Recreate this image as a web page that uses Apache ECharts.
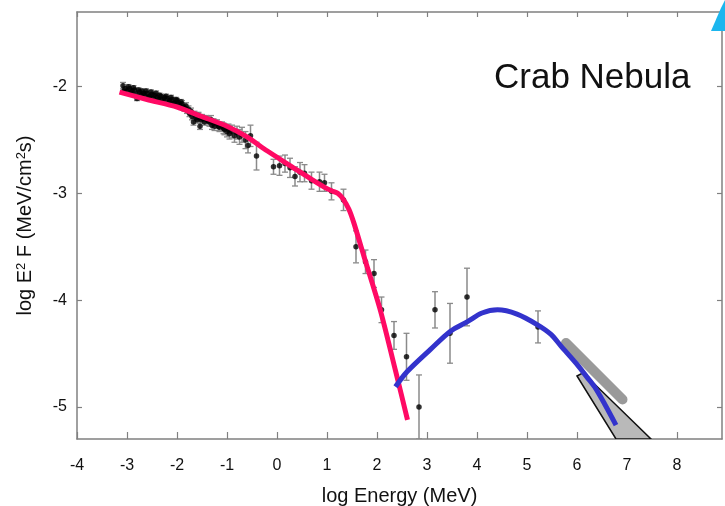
<!DOCTYPE html>
<html>
<head>
<meta charset="utf-8">
<script src="https://cdn.jsdelivr.net/npm/echarts@6/dist/echarts.min.js"></script>
<style>html,body{margin:0;padding:0;background:#fff}#c{width:725px;height:506px}</style>
</head>
<body>
<div id="c"></div>
<script>
// ---- data (log E [MeV], log E^2F, error) ----
const xTicks = [-4, -3, -2, -1, 0, 1, 2, 3, 4, 5, 6, 7, 8];
const yTicks = [-5, -4, -3, -2];

// measured points: [logE, logE2F, error]
const points = [
  [-3.08,-1.99,0.03],[-3.06,-2.04,0.02],[-3.04,-2.02,0.02],[-3.00,-2.04,0.02],[-2.97,-2.00,0.02],
  [-2.95,-2.02,0.02],[-2.92,-2.06,0.02],[-2.90,-2.04,0.02],[-2.87,-2.01,0.02],[-2.85,-2.03,0.02],
  [-2.82,-2.07,0.02],[-2.80,-2.11,0.02],[-2.77,-2.03,0.02],[-2.75,-2.05,0.02],[-2.72,-2.08,0.02],
  [-2.70,-2.04,0.02],[-2.67,-2.06,0.02],[-2.65,-2.08,0.02],[-2.62,-2.04,0.02],[-2.60,-2.06,0.02],
  [-2.57,-2.10,0.02],[-2.55,-2.09,0.02],[-2.52,-2.05,0.02],[-2.50,-2.07,0.02],[-2.47,-2.11,0.02],
  [-2.45,-2.08,0.02],[-2.42,-2.06,0.02],[-2.40,-2.10,0.02],[-2.37,-2.12,0.02],[-2.35,-2.08,0.02],
  [-2.32,-2.09,0.02],[-2.30,-2.12,0.02],[-2.27,-2.14,0.02],[-2.25,-2.10,0.02],[-2.22,-2.09,0.02],
  [-2.20,-2.11,0.02],[-2.17,-2.15,0.02],[-2.15,-2.13,0.02],[-2.12,-2.10,0.02],[-2.10,-2.12,0.02],
  [-2.07,-2.16,0.02],[-2.05,-2.15,0.02],[-2.02,-2.12,0.02],[-2.00,-2.13,0.02],[-1.97,-2.15,0.02],
  [-1.95,-2.17,0.02],[-1.92,-2.14,0.02],[-1.90,-2.16,0.03],[-1.87,-2.19,0.03],[-1.85,-2.20,0.03],
  [-1.82,-2.18,0.03],[-1.80,-2.22,0.03],[-1.77,-2.21,0.03],[-1.75,-2.25,0.03],[-1.72,-2.23,0.03],
  [-1.70,-2.28,0.03],[-1.67,-2.33,0.03],[-1.65,-2.26,0.03],[-1.62,-2.29,0.03],[-1.60,-2.31,0.03],
  [-1.57,-2.27,0.03],[-1.55,-2.29,0.03],[-1.54,-2.37,0.03],[-1.52,-2.31,0.03],[-1.50,-2.29,0.03],
  [-1.47,-2.30,0.03],[-1.45,-2.33,0.03],[-1.42,-2.30,0.03],[-1.40,-2.31,0.03],[-1.37,-2.32,0.04],
  [-1.35,-2.33,0.04],[-1.32,-2.31,0.04],[-1.30,-2.36,0.04],[-1.27,-2.34,0.04],[-1.25,-2.37,0.04],
  [-1.20,-2.35,0.04],[-1.17,-2.37,0.04],[-1.15,-2.38,0.04],[-1.10,-2.37,0.04],[-1.07,-2.39,0.05],
  [-1.05,-2.40,0.05],[-1.00,-2.42,0.05],[-0.97,-2.40,0.05],[-0.95,-2.44,0.05],[-0.90,-2.42,0.06],
  [-0.85,-2.46,0.06],[-0.80,-2.43,0.06],[-0.75,-2.47,0.07],[-0.70,-2.45,0.07],[-0.63,-2.50,0.08],
  [-0.58,-2.55,0.07],[-0.53,-2.46,0.10],[-0.41,-2.65,0.13],
  [-0.07,-2.75,0.07],[0.05,-2.74,0.09],[0.16,-2.72,0.08],[0.26,-2.76,0.09],[0.36,-2.84,0.09],
  [0.46,-2.80,0.09],[0.55,-2.81,0.08],[0.69,-2.88,0.08],[0.85,-2.89,0.09],[0.95,-2.90,0.08],
  [1.09,-2.98,0.08],[1.33,-3.06,0.10],[1.58,-3.50,0.15],[1.77,-3.64,0.11],[1.94,-3.75,0.13],
  [2.09,-4.09,0.12],[2.34,-4.33,0.13],[2.59,-4.53,0.22],[2.84,-5.00,0.30],[3.16,-4.09,0.17],
  [3.46,-4.31,0.28],[3.80,-3.97,0.27],[5.22,-4.25,0.15]
];

// synchrotron model curve (pink)
const syncCurve = [
  [-3.15,-2.05],[-2.6,-2.12],[-2.0,-2.19],[-1.5,-2.28],[-1.0,-2.37],[-0.6,-2.47],
  [-0.2,-2.60],[0.3,-2.75],[0.7,-2.87],[1.0,-2.955],[1.12,-2.98],[1.22,-3.0],
  [1.32,-3.05],[1.44,-3.15],[1.54,-3.28],[1.74,-3.59],[2.07,-4.10],[2.37,-4.66],[2.61,-5.12]
];

// inverse-Compton model curve (blue)
const icCurve = [
  [2.37,-4.81],[2.6,-4.67],[3.07,-4.46],[3.47,-4.29],[3.81,-4.20],[4.1,-4.12],[4.41,-4.09],
  [4.8,-4.13],[5.21,-4.23],[5.48,-4.32],[5.68,-4.43],[5.98,-4.59],[6.2,-4.72],[6.35,-4.81],
  [6.55,-4.97],[6.78,-5.17]
];

// grey thick band (spectrum range)
const band = [[5.78,-4.40],[6.91,-4.93]];

// grey bow-tie wedge
const bowtie = [[6.0,-4.71],[6.12,-4.68],[7.48,-5.3],[6.78,-5.3]];

const chart = echarts.init(document.getElementById('c'), null, {renderer:'canvas'});

const axisLineStyle = {color:'#808080', width:1.5};
const FONT = 'Liberation Sans, Arial, sans-serif';

chart.setOption({
  animation:false,
  backgroundColor:'#ffffff',
  title:{
    text:'Crab Nebula', left:489, top:56,
    textStyle:{fontFamily:FONT, fontSize:35, fontWeight:'normal', color:'#111'}
  },
  grid:{left:77, top:12, width:645, height:427, outerBoundsMode:'none', containLabel:false},
  xAxis:[{
    type:'value', position:'bottom', min:-4, max:8.9,
    axisLine:{onZero:false, lineStyle:axisLineStyle},
    axisTick:{inside:true, length:7, customValues:xTicks, lineStyle:{color:'#808080', width:1.2}},
    axisLabel:{customValues:xTicks, margin:19, fontFamily:FONT, fontSize:16, color:'#111'},
    splitLine:{show:false},
    name:'log Energy (MeV)', nameLocation:'middle', nameGap:47,
    nameTextStyle:{fontFamily:FONT, fontSize:20, color:'#111'}
  },{
    type:'value', position:'top', min:-4, max:8.9,
    axisLine:{onZero:false, lineStyle:axisLineStyle},
    axisTick:{inside:true, length:5, customValues:xTicks, lineStyle:{color:'#808080', width:1.2}},
    axisLabel:{show:false}, splitLine:{show:false}
  }],
  yAxis:[{
    type:'value', position:'left', min:-5.3, max:-1.3,
    axisLine:{show:true, onZero:false, lineStyle:axisLineStyle},
    axisTick:{show:true, inside:true, length:5, customValues:yTicks, lineStyle:{color:'#808080', width:1.2}},
    axisLabel:{customValues:yTicks, margin:10, fontFamily:FONT, fontSize:16, color:'#111'},
    splitLine:{show:false},
    name:'log E{sup|2} F (MeV/cm{sup|2}s)', nameLocation:'middle', nameGap:42,
    nameTextStyle:{fontFamily:FONT, fontSize:20, color:'#111',
      rich:{sup:{fontFamily:FONT, fontSize:13, color:'#111', verticalAlign:'top'}}}
  },{
    type:'value', position:'right', min:-5.3, max:-1.3,
    axisLine:{show:true, onZero:false, lineStyle:axisLineStyle},
    axisTick:{show:true, inside:true, length:5, customValues:yTicks, lineStyle:{color:'#808080', width:1.2}},
    axisLabel:{show:false}, splitLine:{show:false}
  }],
  graphic:[{
    type:'polygon', shape:{points:[[711,31],[721,8],[725,0],[725,31]]},
    style:{fill:'#1cb6ee'}, z:10
  }],
  series:[
    {
      type:'custom', name:'errors', clip:true, z:2,
      data:points,
      renderItem:function(params, api){
        const x = api.value(0), y = api.value(1), e = api.value(2);
        const top = api.coord([x, y + e]);
        const bot = api.coord([x, y - e]);
        const cw = 3;
        return {type:'group', children:[
          {type:'line', shape:{x1:top[0], y1:top[1], x2:bot[0], y2:bot[1]}, style:{stroke:'#8a8a8a', lineWidth:1.5}},
          {type:'line', shape:{x1:top[0]-cw, y1:top[1], x2:top[0]+cw, y2:top[1]}, style:{stroke:'#8a8a8a', lineWidth:1.3}},
          {type:'line', shape:{x1:bot[0]-cw, y1:bot[1], x2:bot[0]+cw, y2:bot[1]}, style:{stroke:'#8a8a8a', lineWidth:1.3}}
        ]};
      }
    },
    {
      type:'scatter', name:'points', z:3, data:points.map(p=>[p[0],p[1]]),
      symbol:'circle', symbolSize:5.5, itemStyle:{color:'#000'}
    },
    {
      type:'custom', name:'bowtie', clip:true, z:4,
      data:[0],
      renderItem:function(params, api){
        const pts = bowtie.map(p=>api.coord(p));
        return {type:'polygon', shape:{points:pts}, style:{fill:'#b9b9b9', stroke:'#111', lineWidth:1.5}};
      }
    },
    {
      type:'line', name:'band', z:5, data:band, symbol:'none', silent:true,
      lineStyle:{color:'#9a9a9a', width:10, cap:'round'}
    },
    {
      type:'line', name:'sync', z:6, data:syncCurve, symbol:'none', smooth:0.25,
      lineStyle:{color:'#ff0a64', width:5}
    },
    {
      type:'line', name:'ic', z:7, data:icCurve, symbol:'none', smooth:0.3,
      lineStyle:{color:'#3333cc', width:5}
    }
  ]
});
</script>
</body>
</html>
